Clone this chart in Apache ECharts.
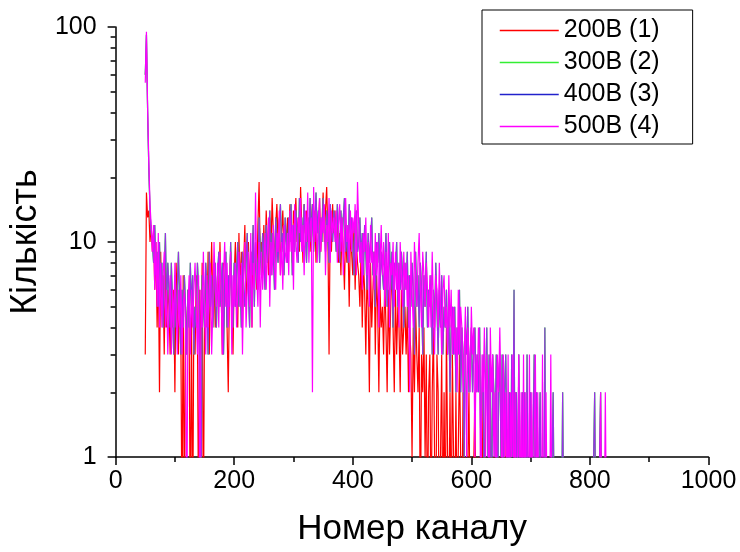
<!DOCTYPE html>
<html>
<head>
<meta charset="utf-8">
<script src="https://cdn.jsdelivr.net/npm/echarts@6/dist/echarts.min.js"></script>
<style>
  html, body { margin: 0; padding: 0; background: #fff; }
  #chart { width: 740px; height: 552px; }
</style>
</head>
<body>
<div id="chart"></div>
<script>
// channel of the first value and distance between values
var startChannel = 50
var channelStep = 2

// 200В (1)
var counts200 = [
  3,17,13,14,10,12,9,11,6,10,4,8,2,9,5,7,3,8,4,6,
  5,3,7,4,6,2,8,5,3,6,4,0,7,0,5,3,6,4,0,5,
  0,5,3,7,4,0,6,3,8,0,5,7,4,9,3,6,10,5,7,4,
  4,7,5,10,6,3,8,5,7,4,2,6,9,5,3,7,10,6,4,11,
  6,9,4,8,12,5,7,10,6,9,4,11,7,9,6,12,19,8,10,7,
  12,8,14,10,7,13,9,16,11,8,12,15,10,13,7,11,14,9,12,10,
  13,9,15,11,8,14,12,16,10,13,9,18,12,8,15,11,14,10,13,9,
  12,15,10,14,8,13,11,16,9,12,17,10,14,18,11,3,13,9,15,11,
  14,10,12,8,11,7,13,9,6,12,8,10,5,11,9,7,12,6,10,8,
  7,5,9,4,8,6,3,7,5,2,8,4,6,9,3,7,5,2,6,4,
  5,3,7,4,2,6,3,5,8,4,2,6,3,5,4,2,6,3,4,5,
  3,5,2,4,3,1,4,2,5,3,2,4,0,3,2,4,1,3,0,2,
  3,0,2,4,1,0,3,2,0,1,3,0,2,0,4,1,0,2,0,3,
  1,0,2,0,0,3,1,0,2,0,1,0,0,2,0,1,0,0,2,0,
  0,1,0,0,2,0,0,1,0,0,0,2,0,0,1,0,0,0,0,1,
  0,0,0,2,0,0,0,0,1,0,0,0,2,0,0,0,0,0,0,0
]

// 400В (3)
var counts400 = [
  60,92,40,22,14,11,10,8,12,7,9,5,10,6,8,4,7,11,5,8,
  6,4,8,5,3,7,4,6,9,5,3,6,4,7,5,3,6,4,8,5,
  7,3,5,4,8,6,3,0,7,5,4,8,6,3,9,5,7,4,6,8,
  4,7,9,5,6,8,3,6,9,4,7,5,10,6,4,8,5,7,10,5,
  7,4,9,6,5,8,11,6,4,9,7,12,5,10,8,6,13,9,7,11,
  9,6,12,8,10,14,7,11,9,6,13,10,8,12,15,9,11,7,13,10,
  8,13,10,15,7,12,9,14,11,8,16,10,13,9,15,11,8,13,10,16,
  10,15,9,12,17,11,14,8,13,10,16,12,9,14,11,8,15,12,10,14,
  12,9,15,11,8,14,10,13,16,9,12,8,15,11,13,10,7,12,14,9,
  10,13,8,11,7,12,9,6,11,8,10,13,7,9,5,10,8,11,6,9,
  9,6,8,11,5,7,10,6,9,4,8,7,10,5,8,6,9,7,4,8,
  6,9,4,7,5,8,6,3,9,5,7,4,8,6,3,7,5,9,4,6,
  5,7,3,6,4,8,5,3,6,4,7,3,5,4,6,3,5,2,4,5,
  3,5,2,4,3,6,2,4,3,1,4,3,5,2,3,4,2,3,4,2,
  3,2,4,1,2,3,0,2,4,1,3,2,0,3,2,1,3,0,2,3,
  1,3,0,2,3,1,0,2,0,3,1,6,0,2,0,3,1,0,2,0,
  2,0,3,0,1,2,0,0,3,0,2,0,0,2,0,0,0,4,0,0,
  0,0,0,0,2,0,0,0,0,0,0,0,2,0,0,0,0,0,0,0,
  0,0,0,0,0,0,0,0,0,0,0,0,0,0,0,0,0,0,0,2,
  0,0,0,0,2,0,0,0,0,0,0,0,0
]

// 300В (2) is not visible anywhere in the picture, it lies under 400В (3)
var counts300 = counts400

// 500В (4)
var counts500 = [
  55,95,42,24,15,12,9,12,6,10,5,11,4,8,4,7,9,4,6,3,
  5,7,3,6,4,8,5,3,6,4,7,3,5,6,4,0,5,7,3,6,
  4,6,8,5,3,7,0,6,4,9,5,3,7,4,6,8,3,5,10,6,
  5,8,4,9,6,3,7,10,5,8,4,6,9,3,7,5,8,4,6,9,
  5,8,3,7,10,4,6,9,5,11,4,8,6,17,7,5,10,4,9,6,
  8,11,6,9,13,5,10,7,12,8,6,11,9,14,7,10,6,12,9,8,
  11,7,14,9,12,6,15,10,8,13,11,16,9,12,7,14,10,17,8,12,
  13,2,18,10,14,8,12,16,9,13,11,15,7,12,10,16,8,14,11,13,
  10,14,8,12,15,9,13,7,11,16,10,12,8,14,9,13,11,15,7,19,
  12,8,10,6,11,9,13,7,10,5,12,8,9,6,11,7,10,4,8,12,
  7,10,5,9,6,11,4,8,7,10,5,9,6,8,4,10,7,5,9,6,
  8,5,7,2,9,6,4,10,7,5,8,11,6,4,9,7,5,8,6,4,
  7,4,9,5,3,7,6,4,8,5,3,6,7,4,5,3,7,4,6,3,
  5,3,4,2,6,3,5,4,2,3,5,1,4,3,2,5,3,4,1,3,
  2,4,3,0,3,2,4,1,3,2,0,4,2,3,1,2,0,3,2,4,
  2,0,3,1,2,0,3,0,2,1,3,0,2,0,1,3,0,2,0,3,
  0,2,1,0,3,0,2,0,0,3,0,2,0,1,0,3,0,0,2,0,
  0,0,3,0,0,0,0,0,0,0,0,0,0,0,0,0,0,0,0,0,
  0,0,0,0,0,0,0,0,0,0,0,0,0,0,0,0,0,0,0,0,
  0,0,0,0,2,0,0,0,2,0,0,0,0
]

var seriesNames = ['200В (1)', '300В (2)', '400В (3)', '500В (4)']
var seriesCounts = [counts200, counts300, counts400, counts500]
var lineColors = ['#ff0000', '#00ff00', '#9a30e8', '#ff00ff']
var legendColors = ['#ff0000', '#33ee33', '#2222cc', '#ff00ff']

// mantissas of the log minor ticks
var minorMantissas = [2, 3, 4, 5, 6, 7, 8, 9]

var fontFamily = "'Liberation Sans', Arial, sans-serif"

// zero counts have no place on a log axis: put them under the axis, the grid clips them
function toPoints(counts) {
  return counts.map(function (v, i) {
    return [startChannel + i * channelStep, v === 0 ? 0.4 : v]
  })
}

var mainYAxis = {
  type: 'log',
  logBase: 10,
  min: 1,
  max: 100,
  name: 'Кількість',
  nameLocation: 'middle',
  nameGap: 59,
  nameTextStyle: { fontFamily: fontFamily, fontSize: 36, color: '#000' },
  axisLine: { show: true, lineStyle: { color: '#000', width: 1.5 } },
  axisTick: { show: true, length: 8, lineStyle: { color: '#000', width: 1.5 } },
  axisLabel: { fontFamily: fontFamily, fontSize: 25, color: '#000', margin: 19 },
  splitLine: { show: false }
}

// helper log axes shifted by 1/k: their decade ticks fall on k and 10k of the main axis
var minorAxes = minorMantissas.map(function (k) {
  return {
    type: 'log',
    logBase: 10,
    position: 'left',
    min: 1 / k,
    max: 100 / k,
    axisLine: { show: false, onZero: false },
    axisLabel: { show: false },
    axisTick: { show: true, length: 5, lineStyle: { color: '#000', width: 1.5 } },
    splitLine: { show: false }
  }
})

// empty series so every helper axis has something bound to it
var helperSeries = minorMantissas.map(function (k, i) {
  return { type: 'line', yAxisIndex: i + 1, data: [], silent: true }
})

var myChart = echarts.init(document.getElementById('chart'))

var option = {
  animation: false,
  backgroundColor: '#fff',
  grid: { left: 114, right: 31.5, top: 27, bottom: 95 },
  legend: {
    left: 482,
    top: 10,
    orient: 'vertical',
    padding: [8, 33, 5, 17],
    itemGap: 7,
    itemWidth: 59,
    itemHeight: 14,
    borderColor: '#000',
    borderWidth: 1,
    backgroundColor: '#fff',
    itemStyle: { opacity: 0 },
    textStyle: { fontFamily: fontFamily, fontSize: 25, color: '#000' },
    data: seriesNames.map(function (n, i) {
      return { name: n, lineStyle: { color: legendColors[i], width: 1.5 } }
    })
  },
  xAxis: {
    type: 'value',
    min: 0,
    max: 1000,
    interval: 200,
    name: 'Номер каналу',
    nameLocation: 'middle',
    nameGap: 55,
    nameTextStyle: { fontFamily: fontFamily, fontSize: 35, color: '#000' },
    axisLine: { show: true, lineStyle: { color: '#000', width: 1.5 } },
    axisTick: { show: true, length: 8, lineStyle: { color: '#000', width: 1.5 } },
    minorTick: { show: true, splitNumber: 2, length: 5, lineStyle: { color: '#000', width: 1.5 } },
    axisLabel: {
      fontFamily: fontFamily, fontSize: 25, color: '#000', margin: 12,
      formatter: function (v) { return String(v) }
    },
    splitLine: { show: false }
  },
  yAxis: [mainYAxis].concat(minorAxes),
  series: seriesNames.map(function (n, i) {
    return {
      name: n,
      type: 'line',
      yAxisIndex: 0,
      symbol: 'none',
      clip: true,
      data: toPoints(seriesCounts[i]),
      itemStyle: { color: legendColors[i] },
      lineStyle: { color: lineColors[i], width: 1.2 }
    }
  }).concat(helperSeries)
}

myChart.setOption(option)
</script>
</body>
</html>
